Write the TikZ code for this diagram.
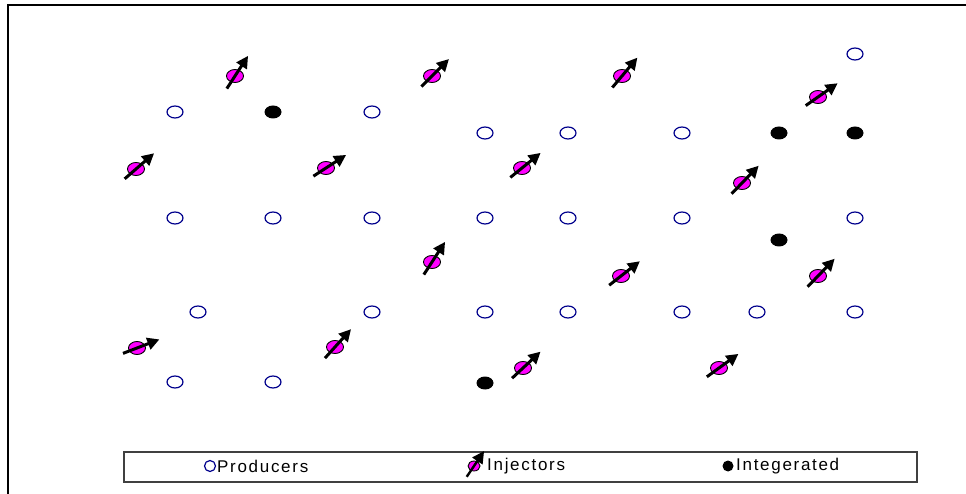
\documentclass[tikz,border=0pt]{standalone}
\usepackage{fontspec}
\setmainfont{Liberation Sans}[LetterSpace=10]
\usetikzlibrary{arrows.meta,shapes.geometric}
\definecolor{prodblue}{RGB}{0,0,140}
\definecolor{injpink}{RGB}{255,0,255}
\tikzset{
  prod/.style={ellipse, draw=prodblue, line width=1.2pt, minimum width=16pt, minimum height=12pt, inner sep=0pt},
  integ/.style={ellipse, fill=black, minimum width=17pt, minimum height=13pt, inner sep=0pt},
  inj/.style={ellipse, draw=black, fill=injpink, line width=0.9pt, minimum width=17pt, minimum height=13pt, inner sep=0pt},
  injarrow/.style={line width=3pt, -{Triangle[length=12pt,width=12pt]}},
  legtext/.style={anchor=west, inner sep=1pt, font=\fontsize{17}{20}\selectfont}
}
\begin{document}
\begin{tikzpicture}[x=1pt,y=1pt]
\useasboundingbox (0,0) rectangle (966,493);
% frame
\draw[line width=2.5pt] (8,-2) -- (8,488) -- (968,488);
% producers
\foreach \n/\x/\y in {1/175/381, 2/372/381, 3/485/360, 4/568/360, 5/682/360, 6/855/439,
  7/175/275, 8/273/275, 9/372/275, 10/485/275, 11/568/275, 12/682/275, 13/855/275,
  14/198/181, 15/372/181, 16/485/181, 17/568/181, 18/682/181, 19/757/181, 20/855/181,
  21/175/111, 22/273/111}
  \node[prod] (p\n) at (\x,\y) {};
% integrated wells
\foreach \n/\x/\y in {1/273/381, 2/779/360, 3/855/360, 4/779/253, 5/485/110}
  \node[integ] (g\n) at (\x,\y) {};
% injectors
\foreach \n/\x/\y/\a in {1/235/417/57, 2/432/417/45, 3/622/417/50, 4/818/396/35,
  5/136/324/41, 6/326/325/33, 7/522/325/39, 8/742/310/46,
  9/432/231/57, 10/621/217/38, 11/818/217/46,
  12/137/145/21, 13/335/146/48, 14/523/125/43, 15/719/125/36}
{
  \node[inj] (i\n) at (\x,\y) {};
  \draw[injarrow] ([shift={(\a+180:15)}]i\n.center) -- ([shift={(\a:24)}]i\n.center);
}
% legend
\draw[line width=1.2pt, black!75] (124,11) rectangle (917,41);
\node[prod, minimum width=11pt, minimum height=11pt] (lp) at (210,27) {};
\node[legtext] (lpt) at (216,27) {Producers};
\node[inj, minimum width=12pt, minimum height=10pt] (li) at (474,27) {};
\draw[injarrow, line width=2.4pt] ([shift={(236:13)}]li.center) -- ([shift={(56:18)}]li.center);
\node[legtext] (lit) at (486,27) {Injectors};
\node[integ, minimum width=11pt, minimum height=11pt] (lg) at (728,27) {};
\node[legtext] (lgt) at (735,27) {Integerated};
\end{tikzpicture}
\end{document}
